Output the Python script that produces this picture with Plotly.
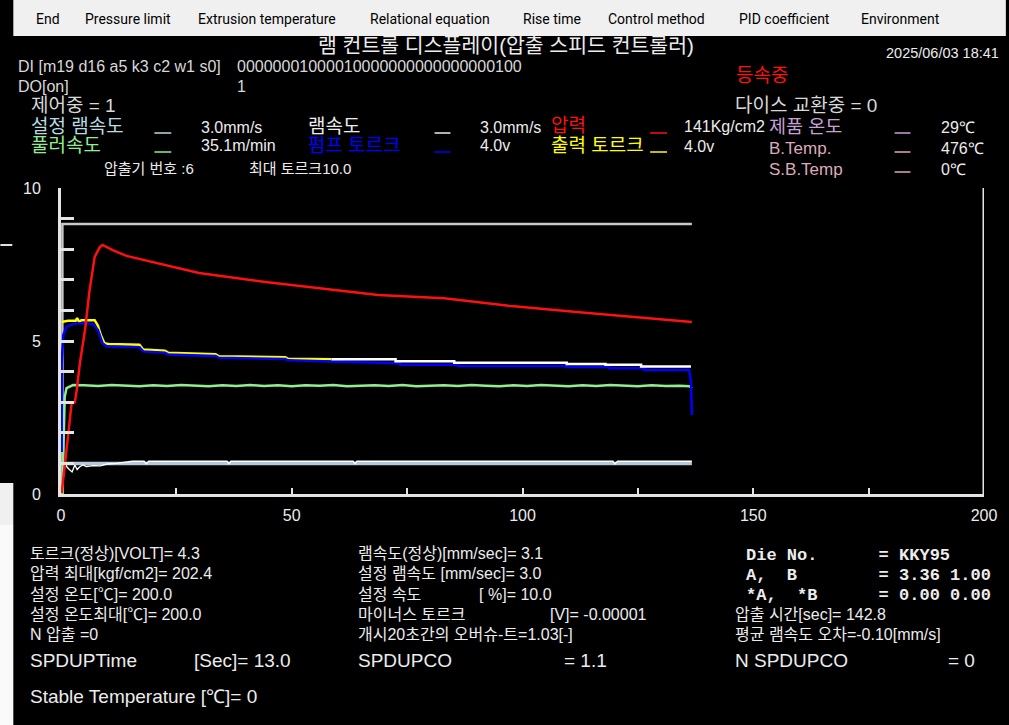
import plotly.graph_objects as go

# ---------------- data ----------------
# upper limit line (light gray)
limit_t = [0.3, 0.3, 136.7]
limit_v = [0.0, 8.82, 8.82]

# set ram speed (light steel blue)
setram_t = [0.2, 136.7]
setram_v = [1.0, 1.0]

# ram speed (white, noisy near 1)
ram_t = [0.15, 0.5, 0.86, 1.3, 1.8, 2.4, 3.0, 3.5, 4.0, 4.7, 5.5, 7.0, 8.5, 10.0, 12.0, 15.5, 18.0, 18.5, 19.0,
         36.0, 36.4, 36.8, 63.3, 63.7, 64.1, 119.6, 120.0, 120.6, 136.7]
ram_v = [0.30, 0.52, 1.00, 0.88, 0.80, 0.72, 0.95, 0.80, 0.88, 0.95, 0.90, 0.93, 0.92, 0.98, 1.00, 1.07, 1.07, 0.99, 1.07,
         1.07, 0.99, 1.07, 1.07, 0.99, 1.07, 1.07, 0.98, 1.07, 1.07]

# puller speed (light green)
green_t = [0.3, 0.5, 0.8, 1.2, 2.0, 2.6, 5, 8, 11, 14, 17, 20, 23, 26, 29, 32, 35, 38, 41, 44, 47, 50, 53, 56, 59,
           62, 65, 68, 71, 74, 77, 80, 83, 86, 89, 92, 95, 98, 101, 104, 107, 110, 113, 116, 119, 122, 125, 128,
           131, 134, 136.2, 136.7]
green_v = [0.0, 1.6, 3.17, 3.46, 3.53, 3.56, 3.55, 3.53, 3.56, 3.54, 3.52, 3.55, 3.53, 3.56, 3.54, 3.52, 3.55, 3.53,
           3.56, 3.53, 3.55, 3.52, 3.55, 3.54, 3.56, 3.52, 3.54, 3.55, 3.53, 3.56, 3.52, 3.54, 3.55, 3.53, 3.56, 3.54,
           3.52, 3.55, 3.53, 3.56, 3.54, 3.52, 3.55, 3.53, 3.56, 3.54, 3.52, 3.55, 3.53, 3.54, 3.52, 3.45]

# pressure (red)
red_t = [0.15, 0.86, 1.6, 2.3, 3.0, 3.4, 4.1, 5.2, 6.2, 7.3, 8.4, 9.0, 11.2, 14.2, 17.0, 25.6, 29.9, 44.3, 58.6,
         68.7, 83.0, 97.0, 111.7, 126.0, 136.7]
red_v = [0.03, 1.1, 2.0, 2.97, 3.0, 3.4, 4.28, 5.36, 6.67, 7.75, 8.07, 8.14, 7.97, 7.78, 7.68, 7.39, 7.22, 6.93, 6.67,
         6.50, 6.40, 6.15, 5.95, 5.75, 5.62]

# output torque (yellow)
yellow_t = [0.15, 1.5, 3.2, 3.5, 3.9, 4.4, 7.3, 8.0, 8.6, 9.4, 10.3, 17.0, 17.8, 22.5, 23.2, 33.5, 34.2, 48.6, 49.2,
            58.6]
yellow_v = [5.62, 5.66, 5.66, 5.75, 5.63, 5.68, 5.68, 5.50, 5.20, 4.93, 4.90, 4.88, 4.72, 4.68, 4.62, 4.57, 4.50,
            4.47, 4.42, 4.40]

# pump torque (blue)
blue_t = [0.15, 0.15, 0.5, 1.2, 2.6, 4.7, 6.9, 8.0, 9.0, 9.9, 17.0, 17.8, 22.5, 23.2, 33.5, 34.2, 48.6, 49.2, 58.6,
          73.5, 73.5, 86.0, 86.0, 109.5, 109.5, 118.8, 118.8, 126.4, 126.4, 136.1, 136.5, 136.7]
blue_v = [1.37, 4.28, 5.20, 5.46, 5.56, 5.59, 5.56, 5.36, 4.93, 4.82, 4.80, 4.66, 4.62, 4.56, 4.51, 4.45, 4.41, 4.37,
          4.33, 4.27, 4.22, 4.22, 4.18, 4.18, 4.15, 4.15, 4.11, 4.11, 4.05, 4.05, 3.67, 2.58]

# steady torque (white)
torq_t = [58.6, 72.5, 72.5, 85.2, 85.2, 109.6, 109.6, 118.0, 118.0, 125.7, 125.7, 136.5]
torq_v = [4.40, 4.40, 4.34, 4.34, 4.29, 4.29, 4.25, 4.25, 4.22, 4.22, 4.17, 4.17]

x_tickvals = [0, 25, 50, 75, 100, 125, 150, 175, 200]
x_ticktext = ["0", "", "50", "", "100", "", "150", "", "200"]
y_tickvals = [0, 1, 2, 3, 4, 5, 6, 7, 8, 9, 10]
y_ticktext = ["0", "", "", "", "", "5", "", "", "", "", "10"]

menu_items = ["End", "Pressure limit", "Extrusion temperature", "Relational equation", "Rise time",
              "Control method", "PID coefficient", "Environment"]

# ---------------- layout helpers ----------------
W, H = 1009, 725
L, R, T, B = 61, 990, 188, 494


def px(x):
    return (x - L) / (R - L)


def py(y):
    return (B - y) / (B - T)


KR = "Liberation Sans, Noto Sans CJK KR"
LAT = "Liberation Sans, Arial"
MONO = "Liberation Mono, Courier New"
GRAY = "#d8d8d8"
WHITE = "#ececec"
RED = "#ff1010"
GREEN = "#90ee90"
BLUE = "#0000ff"
YELLOW = "#ffff00"
SETRAM = "#b8dce0"
SETRAM_LINE = "#b4c8dc"
PLUM = "#c8a0d8"
PINK = "#dcaabb"
AXIS = "#e4e4e4"
NB = "\u00a0"

fig = go.Figure()


def add_line(t, v, color, width):
    fig.add_trace(go.Scatter(x=t, y=v, mode="lines", line=dict(color=color, width=width),
                             hoverinfo="skip", showlegend=False))


add_line(limit_t, limit_v, "#c8c8c8", 2.5)
add_line(setram_t, setram_v, SETRAM_LINE, 3.5)
add_line(ram_t, ram_v, "#ffffff", 1.3)
add_line(green_t, green_v, GREEN, 2.5)
add_line(yellow_t, yellow_v, YELLOW, 2.5)
add_line(blue_t, blue_v, BLUE, 2.5)
add_line(torq_t, torq_v, "#ffffff", 2.5)
add_line(red_t, red_v, RED, 2.5)

shapes = []
# background panels
shapes.append(dict(type="rect", xref="paper", yref="paper", x0=px(13), x1=px(1012), y0=py(0), y1=py(36),
                   fillcolor="#f0f0f0", line=dict(width=0), layer="below"))
shapes.append(dict(type="rect", xref="paper", yref="paper", x0=px(-2), x1=px(13), y0=py(483), y1=py(525),
                   fillcolor="#f0f0f0", line=dict(width=0), layer="below"))
shapes.append(dict(type="rect", xref="paper", yref="paper", x0=px(-2), x1=px(13), y0=py(525), y1=py(728),
                   fillcolor="#fafafa", line=dict(width=0), layer="below"))
shapes.append(dict(type="line", xref="paper", yref="paper", x0=px(0), x1=px(12), y0=py(245), y1=py(245),
                   line=dict(color="#e0e0e0", width=2)))
# right frame line of chart
shapes.append(dict(type="line", xref="x", yref="y", x0=200, x1=200, y0=0, y1=10,
                   line=dict(color=AXIS, width=3)))
# legend dashes
for x0, x1, y, c in [(155, 172, 133, SETRAM), (437, 453, 133, WHITE), (654, 671, 133, RED), (900, 916, 133, PLUM),
                     (155, 172, 152, GREEN), (437, 453, 152, BLUE), (654, 671, 152, YELLOW),
                     (900, 916, 152, PINK), (900, 916, 172, PINK)]:
    shapes.append(dict(type="line", xref="paper", yref="paper", x0=px(x0), x1=px(x1), y0=py(y), y1=py(y),
                       line=dict(color=c, width=1.5)))

annotations = []


def note(txt, x, y, c, s, fam):
    annotations.append(dict(text=txt, x=px(x), y=py(y), xref="paper", yref="paper", xanchor="left",
                            yanchor="middle", showarrow=False, font=dict(color=c, size=s, family=fam)))


def block(lines, x, y0, y1, s, fam):
    """stacked lines (text, colour[, size]) between rows y0 and y1, glyph size s"""
    n = len(lines)
    base = (y1 - y0) / (n - 1) / 1.3
    parts = []
    for ln in lines:
        t, c = ln[0], ln[1]
        sz = ln[2] if len(ln) > 2 else s
        parts.append("<span style='font-size:%.1fpx;fill:%s'>%s</span>" % (sz, c, t))
    annotations.append(dict(text="<br>".join(parts), x=px(x), y=py((y0 + y1) / 2), xref="paper", yref="paper",
                            xanchor="left", yanchor="middle", align="left", showarrow=False,
                            font=dict(color=lines[0][1], size=base, family=fam)))


menu_x = [34, 83, 197, 370, 524, 610, 741, 864]
for name, x in zip(menu_items, menu_x):
    note(name, x, 19, "#000000", 14, "Roboto, Noto Sans")

note("램 컨트롤 디스플레이(압출 스피드 컨트롤러)", 318, 45, WHITE, 20.5, KR)
note("2025/06/03 18:41", 889, 53, WHITE, 14.5, LAT)

# upper status block
block([("DI [m19 d16 a5 k3 c2 w1 s0]", GRAY), ("DO[on]", GRAY)], 16, 67, 87, 16, LAT)
block([("00000001000010000000000000000100", GRAY), ("1", GRAY)], 236, 67, 87, 16, LAT)
note("제어중 = 1", 29, 105, GRAY, 19, KR)
note("등속중", 738, 76, RED, 19, KR)
note("다이스 교환중 = 0", 737, 105, GRAY, 19, KR)
block([("설정 램속도", SETRAM), ("풀러속도", GREEN)], 29, 127, 146, 19, KR)
block([("3.0mm/s", WHITE), ("35.1m/min", WHITE)], 200, 128, 146, 16, LAT)
block([("램속도", WHITE), ("펌프 토르크", BLUE)], 308, 127, 146, 19, KR)
block([("3.0mm/s", WHITE), ("4.0v", WHITE)], 481, 128, 146, 16, LAT)
block([("압력", RED), ("출력 토르크", YELLOW)], 552, 126, 146, 19, KR)
block([("141Kg/cm2", WHITE), ("4.0v", WHITE)], 686, 127, 147, 16, LAT)
block([("제품 온도", PLUM, 18.5), ("B.Temp.", PINK), ("S.B.Temp", PINK)], 772, 126, 168, 17, KR)
block([("29℃", WHITE), ("476℃", WHITE), ("0℃", WHITE)], 945, 127, 169, 16, LAT)
note("압출기 번호 :6", 102, 168, WHITE, 15, KR)
note("최대 토르크10.0", 248, 168, WHITE, 15, KR)

# bottom block, column 1
note("토르크(정상)[VOLT]= 4.3", 28, 553, WHITE, 16, KR)
note("압력 최대[kgf/cm2]= 202.4", 28, 573, WHITE, 16, KR)
note("설정 온도[℃]= 200.0", 28, 594, WHITE, 16, KR)
note("설정 온도최대[℃]= 200.0", 28, 614, WHITE, 16, KR)
note("N 압출 =0", 28, 634, WHITE, 16, KR)
note("SPDUPTime", 28, 660, WHITE, 19, LAT)
note("[Sec]= 13.0", 193, 660, WHITE, 19, LAT)
note("Stable Temperature [℃]= 0", 28, 696, WHITE, 19, LAT)
# column 2
note("램속도(정상)[mm/sec]= 3.1", 358, 553, WHITE, 16, KR)
note("설정 램속도 [mm/sec]= 3.0", 358, 573, WHITE, 16, KR)
note("설정 속도" + NB * 13 + "[ %]= 10.0", 358, 594, WHITE, 16, KR)
note("마이너스 토르크" + NB * 19 + "[V]= -0.00001", 358, 614, WHITE, 16, KR)
note("개시20초간의 오버슈-트=1.03[-]", 358, 634, WHITE, 16, KR)
note("SPDUPCO", 358, 660, WHITE, 19, LAT)
note("= 1.1", 565, 660, WHITE, 19, LAT)
# column 3
note("<b>Die No." + NB * 6 + "= KKY95</b>", 748, 555, WHITE, 17, MONO)
note("<b>A," + NB * 2 + "B" + NB * 8 + "= 3.36 1.00</b>", 748, 575, WHITE, 17, MONO)
note("<b>*A," + NB * 2 + "*B" + NB * 6 + "= 0.00 0.00</b>", 748, 595, WHITE, 17, MONO)
note("압출 시간[sec]= 142.8", 737, 614, WHITE, 16, KR)
note("평균 램속도 오차=-0.10[mm/s]", 737, 634, WHITE, 16, KR)
note("N SPDUPCO", 737, 660, WHITE, 19, LAT)
note("= 0", 952, 660, WHITE, 19, LAT)

fig.update_layout(
    width=W, height=H,
    margin=dict(l=L, r=W - R, t=T, b=H - B, pad=0),
    paper_bgcolor="#000000", plot_bgcolor="#000000",
    shapes=shapes, annotations=annotations,
    xaxis=dict(range=[0, 200], showgrid=False, zeroline=False, showline=True, linecolor=AXIS, linewidth=3,
               ticks="inside", tickvals=x_tickvals, ticktext=x_ticktext, ticklen=6, tickwidth=2,
               tickcolor=AXIS, ticklabelstandoff=5,
               tickfont=dict(color=WHITE, size=16, family=LAT)),
    yaxis=dict(range=[0, 10], showgrid=False, zeroline=False, showline=True, linecolor=AXIS, linewidth=3,
               ticks="inside", tickvals=y_tickvals, ticktext=y_ticktext, ticklen=13, tickwidth=2.5,
               tickcolor=AXIS, ticklabelstandoff=14,
               tickfont=dict(color=WHITE, size=16, family=LAT)),
)

fig.write_html("out.html", config={"displayModeBar": False},
               post_script="document.body.style.margin='0';document.body.style.overflow='hidden';")
